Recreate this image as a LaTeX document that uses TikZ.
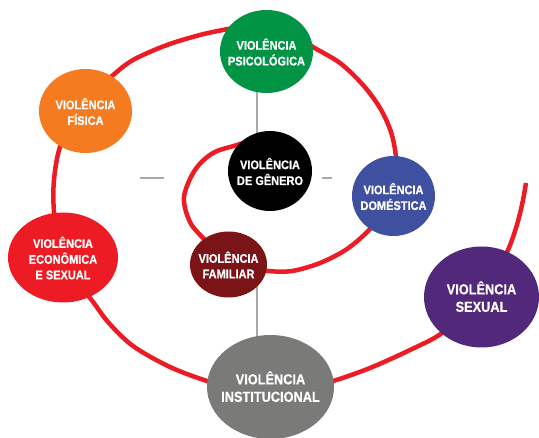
\documentclass[tikz,border=0pt]{standalone}
\usepackage{fontspec}
\setmainfont{Liberation Sans}[FakeStretch=0.88, BoldFeatures={FakeBold=0.6}]
\usetikzlibrary{shapes.geometric,backgrounds}
\definecolor{cgreen}{RGB}{0,148,68}
\definecolor{corange}{RGB}{244,123,32}
\definecolor{cblue}{RGB}{64,80,160}
\definecolor{cdarkred}{RGB}{123,20,22}
\definecolor{cred}{RGB}{237,28,36}
\definecolor{cpurple}{RGB}{82,40,122}
\definecolor{cgray}{RGB}{122,122,120}
\definecolor{caxis}{RGB}{167,169,172}
\newcommand\vtxt[1]{\raisebox{-5.8pt}[0pt][0pt]{\makebox[0pt]{\begin{tabular}{@{}c@{}}#1\end{tabular}}}}
\tikzset{
  vnode/.style={ellipse, inner sep=0pt, text=white,
    font=\bfseries\fontsize{12.5}{15.5}\selectfont},
  bignode/.style={vnode, font=\bfseries\fontsize{14.5}{17.5}\selectfont},
  spiral/.style={draw=cred, line width=4.5pt},
  axisline/.style={draw=caxis, line width=1.5pt}
}
\begin{document}
\begin{tikzpicture}[x=1pt,y=-1pt]
\useasboundingbox (0,0) rectangle (539,438);
\clip (0,0) rectangle (539,438);
\node[vnode, fill=cgreen, minimum width=93pt, minimum height=83pt] (psico) at (266.5,51.5) {\vtxt{VIOLÊNCIA\\PSICOLÓGICA}};
\node[vnode, fill=corange, minimum width=93pt, minimum height=84pt] (fisica) at (85.5,111) {\vtxt{VIOLÊNCIA\\FÍSICA}};
\node[vnode, fill=black, minimum width=84pt, minimum height=80pt] (genero) at (270,171) {\vtxt{VIOLÊNCIA\\DE GÊNERO}};
\node[vnode, fill=cblue, minimum width=83pt, minimum height=80pt] (domestica) at (393.5,196) {\vtxt{VIOLÊNCIA\\DOMÉSTICA}};
\node[vnode, fill=cdarkred, minimum width=77pt, minimum height=66pt] (familiar) at (228.5,264.5) {\vtxt{VIOLÊNCIA\\FAMILIAR}};
\node[vnode, fill=cred, minimum width=110pt, minimum height=90pt] (economica) at (63,257.5) {\vtxt{VIOLÊNCIA\\ECONÔMICA\\E SEXUAL}};
\node[bignode, fill=cpurple, minimum width=115pt, minimum height=101pt] (sexual) at (481.5,297) {\vtxt{VIOLÊNCIA\\SEXUAL}};
\node[bignode, fill=cgray, minimum width=127pt, minimum height=104pt] (institucional) at (270.5,387) {\vtxt{VIOLÊNCIA\\INSTITUCIONAL}};
\begin{scope}[on background layer]
  \coordinate (va) at (257,80);
  \coordinate (vb) at (257,150);
  \coordinate (vc) at (257,270);
  \coordinate (vd) at (257,350);
  \coordinate (hl1) at (140,178);
  \coordinate (hl2) at (164,178);
  \coordinate (hr1) at (322,178);
  \coordinate (hr2) at (332,178);
  \coordinate (spiralend) at (526,183);
  \draw[axisline] (va) -- (vb);
  \draw[axisline] (vc) -- (vd);
  \draw[axisline] (hl1) -- (hl2);
  \draw[axisline] (hr1) -- (hr2);
  \draw[spiral] plot[smooth, tension=0.55] coordinates {
    (252,140) (237,145) (213,153) (195,170) (184,197) (190,222) (205,240)
    (222,256) (245,267) (268,271) (292,271) (320,263) (347,249) (370,229)
    (388,205) (396,180) (396,157) (391,132) (380,108) (363,85) (340,63)
    (313,47) (290,32) (265,26) (240,27) (223,30) (200,35) (167,45) (133,60)
    (112,76) (95,92) (75,118) (60,147) (54,180) (54,212) (60,255) (72,280)
    (90,298) (108,322) (133,346) (170,367) (207,381) (240,390) (270,392)
    (300,389) (333,381) (370,368) (410,350) (442,333) (470,305) (495,275)
    (508,250) (516,228) (522,205) (spiralend)};
\end{scope}
\end{tikzpicture}
\end{document}
